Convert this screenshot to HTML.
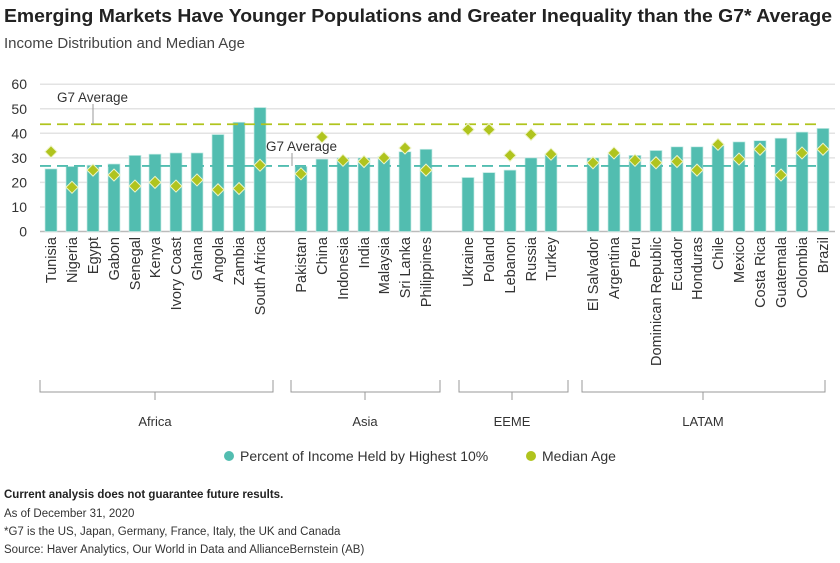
<!DOCTYPE html>
<html><head><meta charset="utf-8"><style>
body{margin:0;background:#fff;width:840px;height:558px;overflow:hidden;font-family:"Liberation Sans",sans-serif}
</style></head><body>
<svg width="840" height="558" xmlns="http://www.w3.org/2000/svg" font-family="Liberation Sans, sans-serif">
<text x="4" y="22" font-size="18.5" font-weight="bold" fill="#222" textLength="828" lengthAdjust="spacingAndGlyphs">Emerging Markets Have Younger Populations and Greater Inequality than the G7* Average</text>
<text x="4" y="48" font-size="15" fill="#444">Income Distribution and Median Age</text>
<g id="c"></g>
<g font-size="13" fill="#333" text-anchor="middle">
<text x="155" y="426">Africa</text><text x="365" y="426">Asia</text><text x="512" y="426">EEME</text><text x="703" y="426">LATAM</text>
</g>
<g stroke="#999" fill="none" stroke-width="1">
<path d="M40,380V392H273V380"/><path d="M155,392V400"/>
<path d="M291,380V392H440V380"/><path d="M365,392V400"/>
<path d="M459,380V392H568V380"/><path d="M512,392V400"/>
<path d="M582,380V392H825V380"/><path d="M703,392V400"/>
</g>
<circle cx="229" cy="456" r="5" fill="#52bdb0"/>
<text x="240" y="461" font-size="14" fill="#333">Percent of Income Held by Highest 10%</text>
<circle cx="531" cy="456" r="5" fill="#b0c41e"/>
<text x="542" y="461" font-size="14" fill="#333">Median Age</text>
<text x="4" y="498" font-size="11.5" font-weight="bold" fill="#222">Current analysis does not guarantee future results.</text>
<text x="4" y="517" font-size="11.5" fill="#333">As of December 31, 2020</text>
<text x="4" y="535" font-size="11.5" fill="#333">*G7 is the US, Japan, Germany, France, Italy, the UK and Canada</text>
<text x="4" y="553" font-size="11.5" fill="#333">Source: Haver Analytics, Our World in Data and AllianceBernstein (AB)</text>
</svg>
<script>
const g=document.getElementById('c');let s='';
const Y=v=>231.5-v*2.455;
for(let v=0;v<=60;v+=10){s+=`<line x1="40" x2="835" y1="${Y(v)}" y2="${Y(v)}" stroke="${v?'#e3e3e3':'#bbb'}" stroke-width="1.5"/>`;
s+=`<text x="27" y="${Y(v)+5}" font-size="14" fill="#333" text-anchor="end">${v}</text>`;}
const d=[
[51,"Tunisia",25.5,32.5],[72,"Nigeria",26.5,18],[93,"Egypt",27,25],[114,"Gabon",27.5,23],[135,"Senegal",31,18.5],[155,"Kenya",31.5,20],[176,"Ivory Coast",32,18.5],[197,"Ghana",32,21],[218,"Angola",39.5,17],[239,"Zambia",44.5,17.5],[260,"South Africa",50.5,27],
[301,"Pakistan",26.5,23.5],[322,"China",29.5,38.5],[343,"Indonesia",30,29],[364,"India",30,28.5],[384,"Malaysia",30.5,30],[405,"Sri Lanka",32.5,34],[426,"Philippines",33.5,25],
[468,"Ukraine",22,41.5],[489,"Poland",24,41.5],[510,"Lebanon",25,31],[531,"Russia",30,39.5],[551,"Turkey",31.5,31.5],
[593,"El Salvador",30,28],[614,"Argentina",31.5,32],[635,"Peru",31,29],[656,"Dominican Republic",33,28],[677,"Ecuador",34.5,28.5],[697,"Honduras",34.5,25],[718,"Chile",35,35.5],[739,"Mexico",36.5,29.5],[760,"Costa Rica",37,33.5],[781,"Guatemala",38,23],[802,"Colombia",40.5,32],[823,"Brazil",42,33.5]];
for(const [x,n,b,m] of d){s+=`<rect x="${x-6}" y="${Y(b)}" width="12" height="${b*2.455}" fill="#52bdb0" stroke="#c8ece6" stroke-width="0.7"/>`;
s+=`<text transform="translate(${x+5},237) rotate(-90)" font-size="14.5" fill="#333" text-anchor="end">${n}</text>`;}
s+=`<line x1="40" x2="822" y1="${Y(43.7)}" y2="${Y(43.7)}" stroke="#b0c41e" stroke-width="1.8" stroke-dasharray="11,6"/>`;
s+=`<line x1="40" x2="822" y1="${Y(26.7)}" y2="${Y(26.7)}" stroke="#52bdb0" stroke-width="1.8" stroke-dasharray="11,6"/>`;
s+=`<line x1="93" x2="93" y1="104" y2="124" stroke="#999"/><text x="57" y="102" font-size="13.5" fill="#333">G7 Average</text>`;
s+=`<line x1="292" x2="292" y1="153" y2="166" stroke="#999"/><text x="266" y="151" font-size="13.5" fill="#333">G7 Average</text>`;
for(const [x,n,b,m] of d){const y=Y(m);s+=`<path d="M${x},${y-6}L${x+6},${y}L${x},${y+6}L${x-6},${y}Z" fill="#b0c41e" stroke="#eef4c8" stroke-width="1"/>`;}
g.innerHTML=s;
</script>
</body></html>
